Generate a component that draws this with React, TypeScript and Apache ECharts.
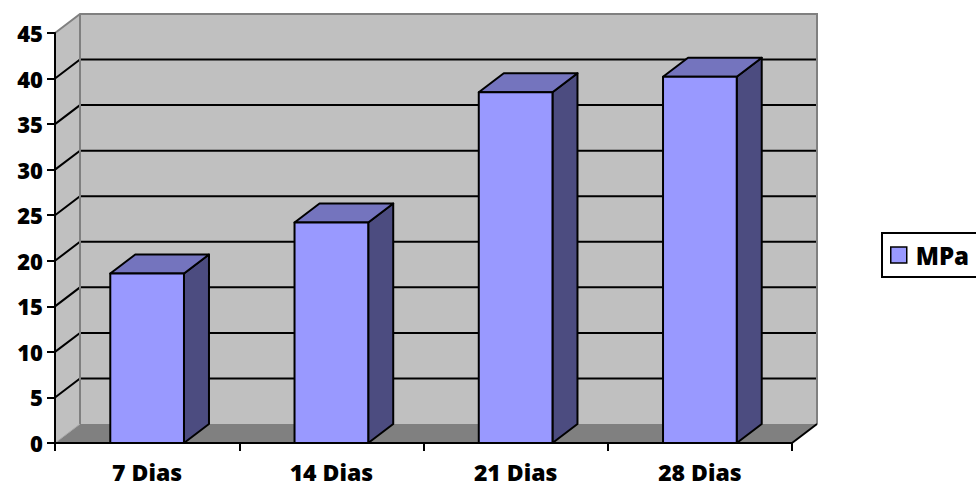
import React, { useEffect, useRef } from 'react';
import * as echarts from 'echarts';

// ---- data ----
const categories = ['7 Dias', '14 Dias', '21 Dias', '28 Dias'];
const mpaValues = [18.6, 24.2, 38.5, 40.2];
const seriesName = 'MPa';
const yMin = 0;
const yMax = 45;
const yStep = 5;
const wallGridValues = [5, 10, 15, 20, 25, 30, 35, 40];

// ---- style ----
const FONT = '"Open Sans", sans-serif';
const WEIGHT = 800;
const DX = 25;
const DY = -19;
const FRONT = '#9999FF';
const TOP = '#7474BE';
const SIDE = '#4C4C80';
const WALL = '#C0C0C0';
const FLOOR = '#808080';
const EDGE = '#808080';

export default function App() {
  const ref = useRef<HTMLDivElement>(null);

  useEffect(() => {
    if (!ref.current) return;
    const chart = echarts.init(ref.current, null, { renderer: 'svg' });

    const backdropRender = (params: any, api: any) => {
      const band = api.size([1, 0])[0];
      const n = categories.length;
      const first = api.coord([0, yMin]);
      const last = api.coord([n - 1, yMin]);
      const xL = first[0] - band / 2;
      const xR = last[0] + band / 2;
      const yB = first[1];
      const yT = api.coord([0, yMax])[1];
      const children: any[] = [];
      children.push({
        type: 'polygon',
        shape: { points: [[xL, yT], [xL + DX, yT + DY], [xL + DX, yB + DY], [xL, yB]] },
        style: { fill: WALL, stroke: null },
      });
      children.push({
        type: 'rect',
        shape: { x: xL + DX, y: yT + DY, width: xR - xL, height: yB - yT },
        style: { fill: WALL, stroke: null },
      });
      children.push({
        type: 'polygon',
        shape: { points: [[xL, yB], [xL + DX, yB + DY], [xR + DX, yB + DY], [xR, yB]] },
        style: { fill: FLOOR, stroke: null },
      });
      wallGridValues.forEach((v) => {
        const y = api.coord([0, v])[1];
        children.push({
          type: 'polyline',
          shape: { points: [[xL, y], [xL + DX, y + DY], [xR + DX, y + DY]] },
          style: { fill: null, stroke: '#000', lineWidth: 2 },
        });
      });
      children.push({
        type: 'polyline',
        shape: {
          points: [[xL, yT], [xL + DX, yT + DY], [xR + DX, yT + DY], [xR + DX, yB + DY]],
        },
        style: { fill: null, stroke: EDGE, lineWidth: 2 },
      });
      children.push({
        type: 'line',
        shape: { x1: xL + DX, y1: yT + DY, x2: xL + DX, y2: yB + DY },
        style: { stroke: EDGE, lineWidth: 2 },
      });
      children.push({
        type: 'line',
        shape: { x1: xL, y1: yB, x2: xL + DX, y2: yB + DY },
        style: { stroke: '#A8A8A8', lineWidth: 1 },
      });
      children.push({
        type: 'line',
        shape: { x1: xR, y1: yB, x2: xR + DX, y2: yB + DY },
        style: { stroke: '#000', lineWidth: 2 },
      });
      return { type: 'group', children };
    };

    const barRender = (params: any, api: any) => {
      const idx = api.value(0);
      const v = api.value(1);
      const band = api.size([1, 0])[0];
      const base = api.coord([idx, yMin]);
      const top = api.coord([idx, v]);
      const w = band * 0.4;
      const x0 = base[0] - w / 2;
      const x1 = x0 + w;
      const yB = base[1];
      const yT = top[1];
      const lineStyle = { stroke: '#000', lineWidth: 2, lineJoin: 'round' };
      return {
        type: 'group',
        children: [
          {
            type: 'polygon',
            shape: { points: [[x1, yB], [x1 + DX, yB + DY], [x1 + DX, yT + DY], [x1, yT]] },
            style: { fill: SIDE, ...lineStyle },
          },
          {
            type: 'polygon',
            shape: { points: [[x0, yT], [x0 + DX, yT + DY], [x1 + DX, yT + DY], [x1, yT]] },
            style: { fill: TOP, ...lineStyle },
          },
          {
            type: 'rect',
            shape: { x: x0, y: yT, width: w, height: yB - yT },
            style: { fill: FRONT, ...lineStyle },
          },
        ],
      };
    };

    chart.setOption({
      animation: false,
      backgroundColor: '#FFFFFF',
      grid: { left: 55, right: 184, top: 33, bottom: 46, containLabel: false },
      legend: {
        data: [{ name: seriesName, icon: 'rect' }],
        left: 882,
        top: 233,
        orient: 'vertical',
        borderColor: '#000',
        borderWidth: 2,
        borderRadius: 0,
        padding: [10, 14, 10, 8],
        itemWidth: 16,
        itemHeight: 16,
        itemStyle: { color: FRONT, borderColor: '#000', borderWidth: 1.5 },
        textStyle: {
          fontFamily: FONT,
          fontWeight: WEIGHT,
          fontSize: 24,
          color: '#000',
          lineHeight: 24,
          padding: [0, 0, 0, 4],
        },
      },
      xAxis: {
        type: 'category',
        data: categories,
        boundaryGap: true,
        z: 10,
        axisLine: { show: true, lineStyle: { color: '#000', width: 2 } },
        axisTick: { show: true, length: 8, lineStyle: { color: '#000', width: 2 } },
        axisLabel: {
          margin: 17,
          fontFamily: FONT,
          fontWeight: WEIGHT,
          fontSize: 23,
          lineHeight: 24,
          color: '#000',
        },
        splitLine: { show: false },
      },
      yAxis: {
        type: 'value',
        min: yMin,
        max: yMax,
        interval: yStep,
        z: 10,
        axisLine: { show: true, lineStyle: { color: '#000', width: 2 } },
        axisTick: { show: true, length: 8, lineStyle: { color: '#000', width: 2 } },
        axisLabel: {
          margin: 12,
          fontFamily: FONT,
          fontWeight: WEIGHT,
          fontSize: 22,
          color: '#000',
        },
        splitLine: { show: false },
      },
      series: [
        {
          type: 'custom',
          name: 'backdrop',
          z: 1,
          silent: true,
          renderItem: backdropRender,
          data: [[0, 0]],
          encode: { x: 0, y: 1 },
        },
        {
          type: 'custom',
          name: seriesName,
          z: 3,
          itemStyle: { color: FRONT },
          renderItem: barRender,
          data: mpaValues.map((v, i) => [i, v]),
          encode: { x: 0, y: 1 },
        },
      ],
    });

    return () => chart.dispose();
  }, []);

  return (
    <div
      ref={ref}
      style={{ position: 'fixed', left: 0, top: 0, width: 976, height: 489 }}
    />
  );
}
